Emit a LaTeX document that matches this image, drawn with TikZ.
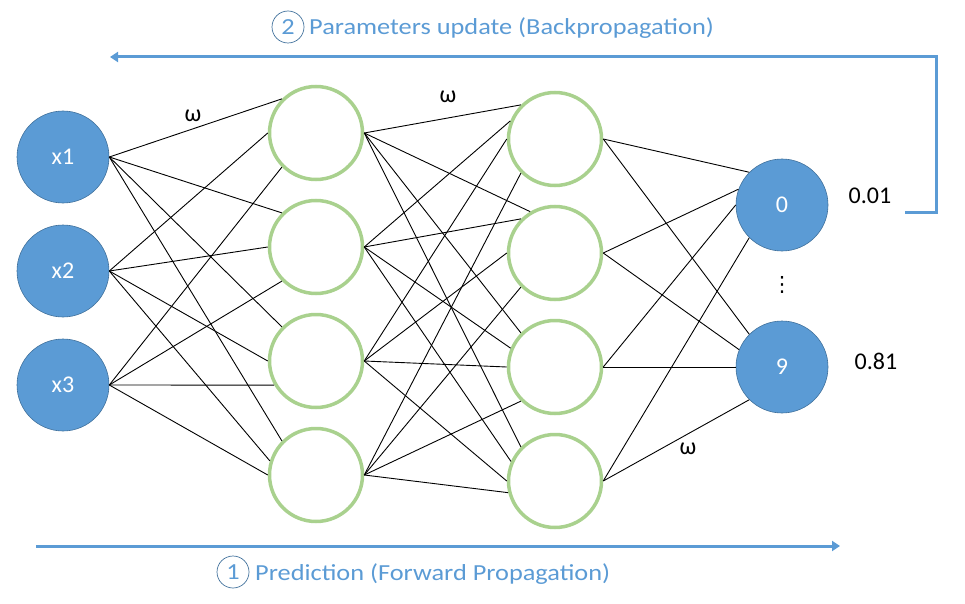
\documentclass[tikz,border=0pt]{standalone}
\usepackage{fontspec}
\setmainfont{Carlito}
\newfontfamily\capfont[FakeStretch=1.145]{Carlito}
\newfontfamily\symfont{DejaVu Sans}
\usetikzlibrary{arrows.meta,shapes.geometric}
\definecolor{nblue}{HTML}{5B9BD5}
\definecolor{nborder}{HTML}{41719C}
\definecolor{ngreen}{HTML}{A9D18E}
\begin{document}
\begin{tikzpicture}[x=1pt,y=-1pt,
  inn/.style={circle,fill=nblue,draw=nborder,line width=0.6pt,minimum size=92pt,inner sep=0pt,text=white,font=\fontsize{24}{28}\selectfont},
  hid/.style={circle,draw=ngreen,line width=3.5pt,minimum size=93pt,inner sep=0pt},
  wire/.style={black,line width=0.9pt},
  lbl/.style={font=\fontsize{24}{28}\selectfont,anchor=base,inner sep=0pt},
  flow/.style={nblue,line width=3pt,-{Triangle[length=8pt,width=10pt]}},
  numc/.style={circle,draw=nborder,line width=0.7pt,minimum size=32pt,inner sep=0pt,text=nblue,font=\capfont\fontsize{23}{27}\selectfont},
  capt/.style={text=nblue,font=\capfont\fontsize{23}{27}\selectfont,anchor=base west,inner sep=0pt}]
\path[use as bounding box] (0,0) rectangle (965,604);
% input layer
\node[inn] (x1) at (63,157) {x1};
\node[inn] (x2) at (63,271) {x2};
\node[inn] (x3) at (63,385) {x3};
% hidden layer 1
\node[hid] (h1) at (316,133) {};
\node[hid] (h2) at (316,247) {};
\node[hid] (h3) at (316,361) {};
\node[hid] (h4) at (316,475) {};
% hidden layer 2
\node[hid] (g1) at (555,139) {};
\node[hid] (g2) at (555,253) {};
\node[hid] (g3) at (555,367) {};
\node[hid] (g4) at (555,481) {};
% output
\node[inn] (o0) at (782,205) {0};
\node[inn] (o9) at (782,367) {9};
% wires input -> hidden 1
\foreach \t in {h1,h2,h3,h4} \draw[wire] (x1.east) -- (\t.135);
\draw[wire] (x2.east) -- (h1.180);
\draw[wire] (x2.east) -- (h2.180);
\draw[wire] (x2.east) -- (h3.180);
\draw[wire] (x2.east) -- (h4.163);
\draw[wire] (x3.east) -- (h1.225);
\draw[wire] (x3.east) -- (h2.225);
\draw[wire] (x3.east) -- (h3.210);
\draw[wire] (x3.east) -- (h4.180);
% hidden 1 -> hidden 2
\draw[wire] (h1.east) -- (g1.135);
\draw[wire] (h1.east) -- (g2.121);
\draw[wire] (h1.east) -- (g3.135);
\draw[wire] (h1.east) -- (g4.135);
\draw[wire] (h2.east) -- (g1.158);
\draw[wire] (h2.east) -- (g2.135);
\draw[wire] (h2.east) -- (g3.157);
\draw[wire] (h2.east) -- (g4.156);
\foreach \t in {g1,g2,g3,g4} \draw[wire] (h3.east) -- (\t.180);
\draw[wire] (h4.east) -- (g1.225);
\draw[wire] (h4.east) -- (g2.225);
\draw[wire] (h4.east) -- (g3.225);
\draw[wire] (h4.east) -- (g4.194);
% hidden 2 -> output
\draw[wire] (g1.east) -- (o0.135);
\draw[wire] (g1.east) -- (o9.135);
\draw[wire] (g2.east) -- (o0.160);
\draw[wire] (g2.east) -- (o9.158);
\draw[wire] (g3.east) -- (o0.180);
\draw[wire] (g3.east) -- (o9.180);
\draw[wire] (g4.east) -- (o0.225);
\draw[wire] (g4.east) -- (o9.225);
% labels
\node[lbl] (w1) at (193,122) {ω};
\node[lbl] (w2) at (448,103) {ω};
\node[lbl] (w3) at (688,454) {ω};
\node[lbl] (p0) at (870,203) {0.01};
\node[lbl] (p9) at (876,369) {0.81};
\node[inner sep=0pt,font=\symfont\fontsize{21}{23}\selectfont] (dots) at (782,285) {⋮};
% flow arrows
\coordinate (bs) at (905,212);
\coordinate (bc) at (936,212);
\coordinate (be) at (110,57);
\draw[flow,line join=miter] (bs) -- (bc) |- (be);
\coordinate (fs) at (36,546);
\coordinate (fe) at (840,546);
\draw[flow] (fs) -- (fe);
% captions
\node[numc] (c2) at (288,27) {2};
\node[capt] (t2) at (309,35) {Parameters update (Backpropagation)};
\node[numc] (c1) at (233,572) {1};
\node[capt] (t1) at (255,580) {Prediction (Forward Propagation)};
\end{tikzpicture}
\end{document}
